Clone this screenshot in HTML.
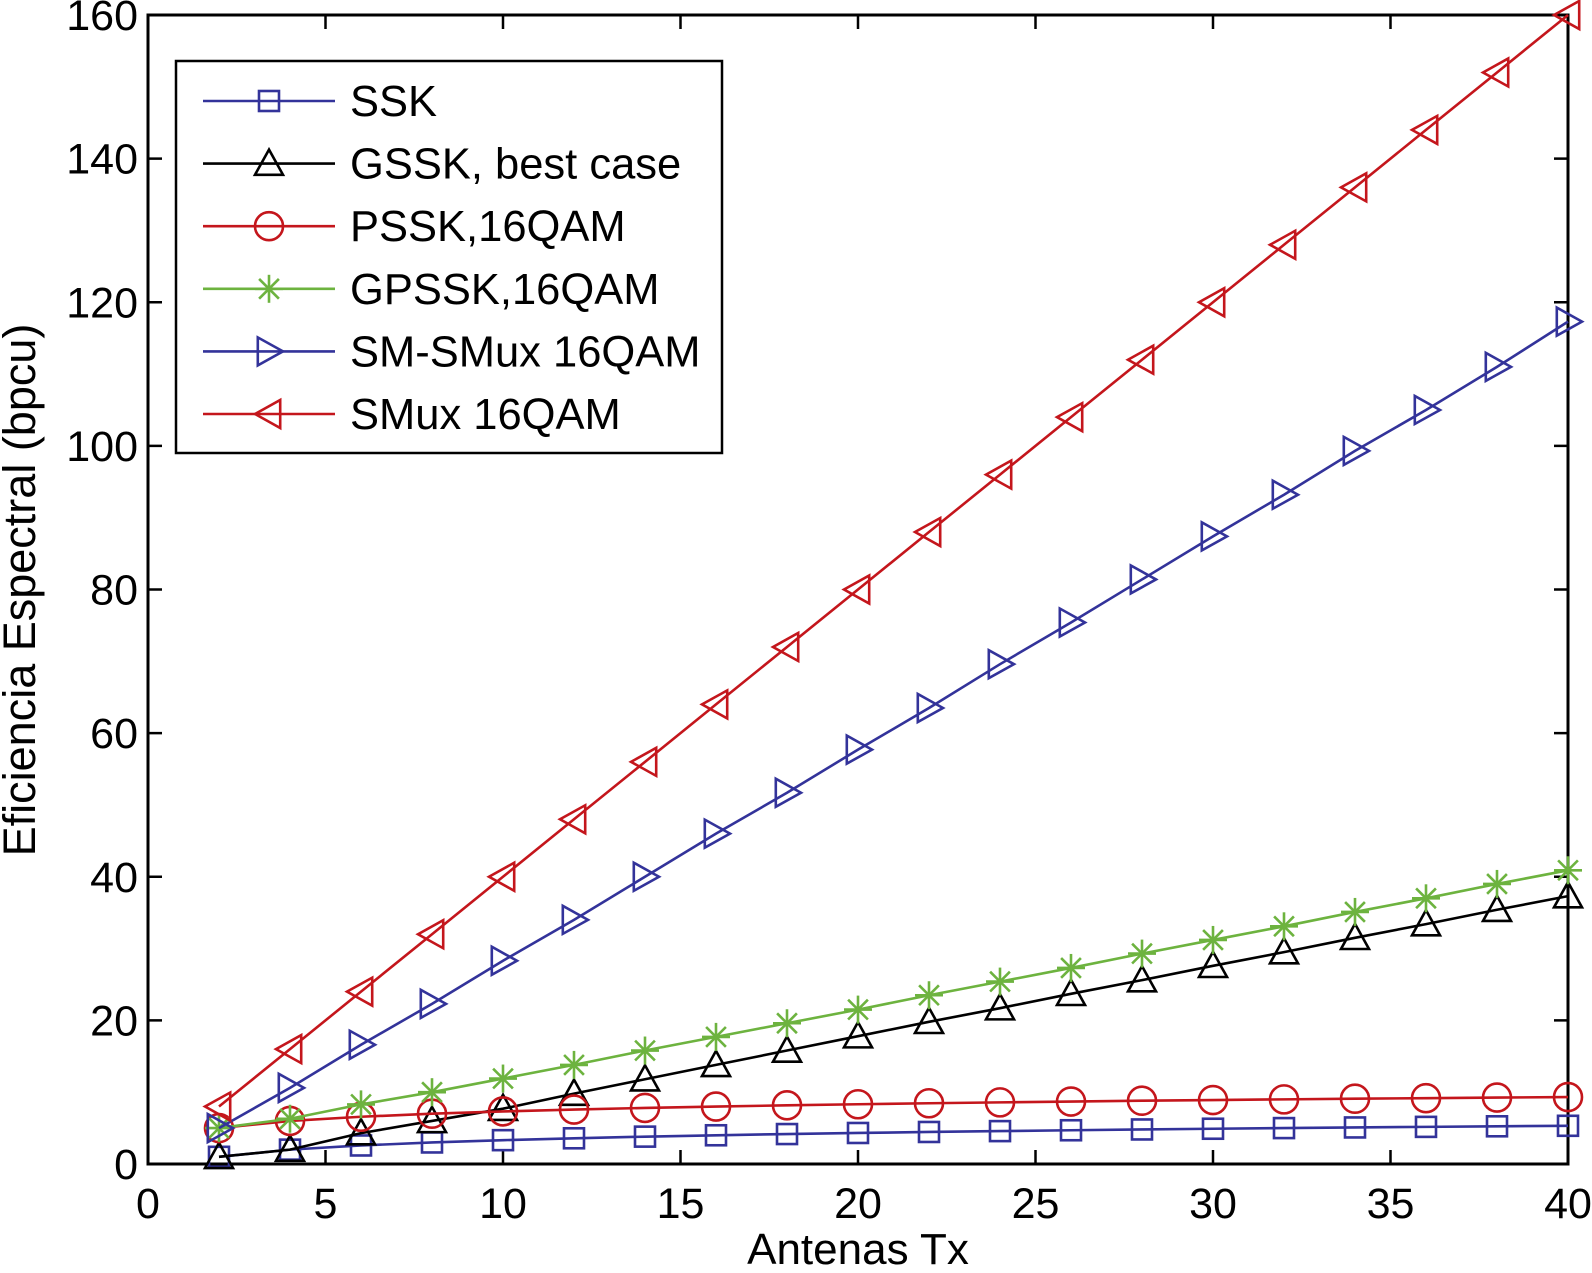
<!DOCTYPE html>
<html><head><meta charset="utf-8"><style>
body{margin:0;background:#fff}
svg{display:block;font-family:"Liberation Sans",sans-serif}
</style></head><body>
<svg id="chart" width="1592" height="1273" viewBox="0 0 1592 1273" xmlns="http://www.w3.org/2000/svg"></svg>
<script>
const antennas=[2,4,6,8,10,12,14,16,18,20,22,24,26,28,30,32,34,36,38,40];
const ssk=[1,2,2.58,3,3.32,3.58,3.81,4,4.17,4.32,4.46,4.58,4.7,4.81,4.91,5,5.09,5.17,5.25,5.32];
const gssk=[1,2,4.3,6,7.7,9.8,11.8,13.8,15.8,17.8,19.8,21.7,23.7,25.6,27.6,29.5,31.5,33.4,35.4,37.3];
const pssk=[5,6,6.58,7,7.32,7.58,7.81,8,8.17,8.32,8.46,8.58,8.7,8.81,8.91,9,9.09,9.17,9.25,9.32];
const gpssk=[5,6.3,8.3,10,11.9,13.8,15.8,17.7,19.6,21.5,23.5,25.4,27.3,29.3,31.2,33.1,35.1,37,39,40.9];
const smsmux=[5,10.6,16.6,22.3,28.3,34,40,46,51.7,57.7,63.5,69.6,75.4,81.4,87.4,93.2,99.3,105,111,117.3];
const smux=[8,16,24,32,40,48,56,64,72,80,88,96,104,112,120,128,136,144,152,160];
const xTicks=[0,5,10,15,20,25,30,35,40];
const yTicks=[0,20,40,60,80,100,120,140,160];
const seriesNames=["SSK","GSSK, best case","PSSK,16QAM","GPSSK,16QAM","SM-SMux 16QAM","SMux 16QAM"];

const L=148,R=1568,T=15,B=1164;
const X=v=>L+(v-0)/(40-0)*(R-L);
const Y=v=>B-(v-0)/(160-0)*(B-T);
const svg=document.getElementById('chart');
const NS='http://www.w3.org/2000/svg';
function mk(tag,attrs,parent){const e=document.createElementNS(NS,tag);for(const k in attrs)e.setAttribute(k,attrs[k]);(parent||svg).appendChild(e);return e;}

const axes=mk('g',{});


xTicks.forEach(t=>{
  mk('line',{x1:X(t),x2:X(t),y1:B,y2:B-14,stroke:'#000','stroke-width':2.5},axes);
  mk('line',{x1:X(t),x2:X(t),y1:T,y2:T+14,stroke:'#000','stroke-width':2.5},axes);
  const tx=mk('text',{x:X(t),y:B+54,'font-size':43,'text-anchor':'middle'},axes);
  tx.textContent=t;
  
  
});
yTicks.forEach(t=>{
  mk('line',{x1:L,x2:L+14,y1:Y(t),y2:Y(t),stroke:'#000','stroke-width':2.5},axes);
  mk('line',{x1:R,x2:R-14,y1:Y(t),y2:Y(t),stroke:'#000','stroke-width':2.5},axes);
  const tx=mk('text',{x:L-10,y:Y(t)+15,'font-size':43,'text-anchor':'end'},axes);
  tx.textContent=t;
  
  
});
mk('rect',{x:L,y:T,width:R-L,height:B-T,fill:'none',stroke:'#000','stroke-width':3},axes);
const xl=mk('text',{x:858,y:1264,'font-size':44,'text-anchor':'middle'});
xl.textContent='Antenas Tx';


const yl=mk('text',{x:0,y:0,'font-size':45,'text-anchor':'middle',transform:'translate(35,590) rotate(-90)'});
yl.textContent='Eficiencia Espectral (bpcu)';



function marker(g,type,x,y,color){
  const s=14;
  const a={fill:'none',stroke:color,'stroke-width':2.6};
  if(type==='sq')mk('rect',Object.assign({x:x-10,y:y-10,width:20,height:20},a),g);
  else if(type==='tri')mk('polygon',Object.assign({points:`${x},${y-s} ${x-s},${y+s*0.8} ${x+s},${y+s*0.8}`},a),g);
  else if(type==='circ')mk('circle',Object.assign({cx:x,cy:y,r:s},a),g);
  else if(type==='star'){for(let i=0;i<4;i++){const ang=i*Math.PI/4;mk('line',Object.assign({x1:x-s*Math.cos(ang),y1:y-s*Math.sin(ang),x2:x+s*Math.cos(ang),y2:y+s*Math.sin(ang)},a),g);}}
  else if(type==='right')mk('polygon',Object.assign({points:`${x+s},${y} ${x-s*0.8},${y-s} ${x-s*0.8},${y+s}`},a),g);
  else if(type==='left')mk('polygon',Object.assign({points:`${x-s},${y} ${x+s*0.8},${y-s} ${x+s*0.8},${y+s}`},a),g);
}
const series=[
 {d:ssk,c:'#33339a',m:'sq',n:'series-ssk'},
 {d:gssk,c:'#000',m:'tri',n:'series-gssk'},
 {d:pssk,c:'#c4161c',m:'circ',n:'series-pssk'},
 {d:gpssk,c:'#6db33f',m:'star',n:'series-gpssk'},
 {d:smsmux,c:'#33339a',m:'right',n:'series-sm-smux'},
 {d:smux,c:'#c4161c',m:'left',n:'series-smux'}
];
series.forEach(s=>{
  const g=mk('g',{});
  
  
  mk('polyline',{points:antennas.map((a,i)=>X(a)+','+Y(s.d[i])).join(' '),fill:'none',stroke:s.c,'stroke-width':2.6},g);
  antennas.forEach((a,i)=>marker(g,s.m,X(a),Y(s.d[i]),s.c));
});
const lg=mk('g',{});


mk('rect',{x:176,y:61,width:546,height:392,fill:'#fff',stroke:'#000','stroke-width':2.5},lg);
series.forEach((s,i)=>{
  const y=101+i*62.6;
  const e=mk('g',{},lg);
  
  
  mk('line',{x1:203,x2:335,y1:y,y2:y,stroke:s.c,'stroke-width':2.6},e);
  marker(e,s.m,269,y,s.c);
  const t=mk('text',{x:350,y:y+15,'font-size':43.5},e);
  t.textContent=seriesNames[i];
});
</script>
</body></html>
